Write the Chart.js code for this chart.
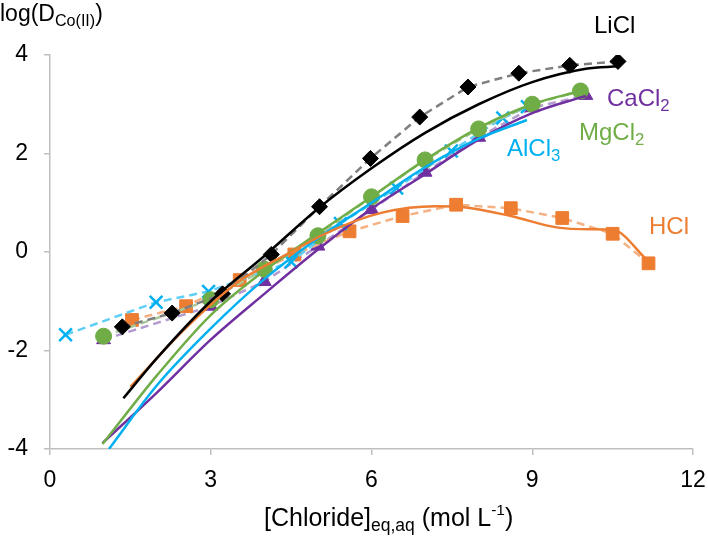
<!DOCTYPE html>
<html>
<head>
<meta charset="utf-8">
<script src="https://cdn.jsdelivr.net/npm/chart.js@4.4.1/dist/chart.umd.min.js"></script>
<style>
  html, body { margin: 0; padding: 0; background: #fff; }
  #wrap { position: relative; width: 708px; height: 536px; font-family: "Liberation Sans", Arial, sans-serif; }
  #wrap canvas { position: absolute; left: 0; top: 0; }
  .lbl { position: absolute; white-space: nowrap; line-height: 1; }
  .lbl sub { font-size: 0.7em; vertical-align: -0.3em; line-height: 0; }
  .lbl sup { font-size: 0.62em; vertical-align: 0.7em; line-height: 0; }
</style>
</head>
<body>
<div id="wrap">
  <canvas id="chart" width="708" height="536"></canvas>
  <div class="lbl" style="left:0px;top:2px;font-size:23px;color:#000">log(D<sub>Co(II)</sub>)</div>
  <div class="lbl" style="left:264px;top:505px;font-size:25px;color:#000">[Chloride]<sub>eq,aq</sub> (mol L<sup>-1</sup>)</div>
  <div class="lbl" style="left:594px;top:13px;font-size:24px;color:#000">LiCl</div>
  <div class="lbl" style="left:607px;top:86px;font-size:24px;color:#7030A0">CaCl<sub>2</sub></div>
  <div class="lbl" style="left:579px;top:120px;font-size:24px;color:#70AD47">MgCl<sub>2</sub></div>
  <div class="lbl" style="left:507px;top:136px;font-size:24px;color:#00B0F0">AlCl<sub>3</sub></div>
  <div class="lbl" style="left:649px;top:214px;font-size:24px;color:#ED7D31">HCl</div>
</div>
<script>
// measured points (markers + dashed lines)
const liclX = [1.35, 2.28, 3.22, 4.13, 5.03, 5.98, 6.9, 7.8, 8.75, 9.7, 10.6];
const liclY = [-1.52, -1.24, -0.85, -0.05, 0.92, 1.9, 2.74, 3.35, 3.63, 3.79, 3.87];
const hclX = [1.53, 2.54, 3.54, 4.56, 5.59, 6.58, 7.58, 8.6, 9.56, 10.5, 11.17];
const hclY = [-1.38, -1.1, -0.57, -0.05, 0.42, 0.73, 0.96, 0.89, 0.69, 0.37, -0.23];
const cacl2X = [1, 3, 4, 5, 6, 7, 8, 9, 10];
const cacl2Y = [-1.78, -1.1, -0.6, 0.12, 0.86, 1.62, 2.33, 2.93, 3.18];
const mgcl2X = [1, 3, 4, 5, 6, 7, 8, 9, 9.9];
const mgcl2Y = [-1.71, -0.97, -0.35, 0.33, 1.12, 1.87, 2.5, 3.0, 3.27];
const alcl3X = [0.29, 1.98, 2.96, 4.5, 5.42, 6.47, 7.49, 8.45, 8.91];
const alcl3Y = [-1.68, -1.02, -0.8, -0.2, 0.58, 1.3, 2.05, 2.72, 2.95];

// model curves (solid lines)
const liclFitX = [1.37, 2, 3, 4, 5, 6, 7, 8, 9, 10, 10.6];
const liclFitY = [-2.97, -2.15, -1.0, -0.08, 0.88, 1.7, 2.42, 3.0, 3.45, 3.72, 3.77];
const hclFitX = [1.5, 2.5, 3.5, 4.5, 5.25, 6.2, 7.2, 7.8, 8.6, 9.45, 10.1, 10.5, 11.15];
const hclFitY = [-2.74, -1.58, -0.62, 0.0, 0.43, 0.8, 0.93, 0.9, 0.73, 0.5, 0.46, 0.45, -0.17];
const cacl2FitX = [0.98, 2, 3, 4, 5, 6, 7, 8, 9, 10];
const cacl2FitY = [-3.88, -2.85, -1.78, -0.85, 0.05, 0.88, 1.58, 2.28, 2.82, 3.17];
const mgcl2FitX = [0.98, 2, 3, 4, 5, 6, 7, 8, 9, 9.9];
const mgcl2FitY = [-3.9, -2.5, -1.28, -0.38, 0.38, 1.12, 1.87, 2.52, 3.0, 3.27];
const alcl3FitX = [1.1, 2, 3, 4, 5, 6, 7, 8, 8.9];
const alcl3FitY = [-4.0, -2.7, -1.55, -0.55, 0.28, 1.0, 1.72, 2.3, 2.68];

const xTicks = [0, 3, 6, 9, 12];
const yTicks = [-4, -2, 0, 2, 4];

function pts(xs, ys) {
    return xs.map((x, i) => ({ x: x, y: ys[i] }));
}

function dataSet(xs, ys, color, dashColor, style, radius, order) {
    return {
        data: pts(xs, ys),
        borderColor: dashColor, borderWidth: 2.5, borderDash: [8, 5],
        pointStyle: style, pointRadius: radius,
        pointBackgroundColor: color, pointBorderColor: color,
        pointBorderWidth: style === 'crossRot' ? 2.5 : 1,
        tension: 0, order: order
    };
}

function fitSet(xs, ys, color, order) {
    return {
        data: pts(xs, ys),
        borderColor: color, borderWidth: 2.5,
        pointRadius: 0, cubicInterpolationMode: 'monotone', order: order
    };
}

const axisGrey = '#BFBFBF';
const tickFont = { family: '"Liberation Sans", Arial, sans-serif', size: 23 };

new Chart(document.getElementById('chart'), {
    type: 'scatter',
    data: {
        datasets: [
            fitSet(liclFitX, liclFitY, '#000000', 0),
            fitSet(hclFitX, hclFitY, '#ED7D31', 1),
            fitSet(mgcl2FitX, mgcl2FitY, '#70AD47', 2),
            fitSet(alcl3FitX, alcl3FitY, '#00B0F0', 3),
            fitSet(cacl2FitX, cacl2FitY, '#7030A0', 4),
            dataSet(liclX, liclY, '#000000', '#7F7F7F', 'rectRot', 8, 5),
            dataSet(mgcl2X, mgcl2Y, '#70AD47', '#A9C99A', 'circle', 8, 6),
            dataSet(alcl3X, alcl3Y, '#00B0F0', '#5FCFF5', 'crossRot', 9, 7),
            dataSet(hclX, hclY, '#ED7D31', '#F4B183', 'rect', 9, 8),
            dataSet(cacl2X, cacl2Y, '#7030A0', '#B49BD0', 'triangle', 8, 9)
        ].map(d => Object.assign(d, { showLine: true }))
    },
    options: {
        responsive: false, animation: false,
        layout: { padding: { left: 0, top: 55, right: 15, bottom: 0 } },
        plugins: { legend: { display: false }, tooltip: { enabled: false } },
        scales: {
            x: {
                type: 'linear', min: 0, max: 12,
                afterBuildTicks: s => { s.ticks = xTicks.map(v => ({ value: v })); },
                afterFit: s => { s.height = 87; s.paddingLeft = 0; s.paddingRight = 0; },
                border: { color: axisGrey, width: 1.5 },
                grid: { drawOnChartArea: false, drawTicks: true, tickLength: 6, color: axisGrey, lineWidth: 1.5 },
                ticks: { color: '#000', font: tickFont, padding: 12, maxRotation: 0 }
            },
            y: {
                type: 'linear', min: -4, max: 4,
                afterBuildTicks: s => { s.ticks = yTicks.map(v => ({ value: v })); },
                afterFit: s => { s.width = 50; s.paddingTop = 0; s.paddingBottom = 0; },
                border: { color: axisGrey, width: 1.5 },
                grid: { drawOnChartArea: false, drawTicks: true, tickLength: 6, color: axisGrey, lineWidth: 1.5 },
                ticks: { color: '#000', font: tickFont, padding: 16 }
            }
        }
    }
});
</script>
</body>
</html>
